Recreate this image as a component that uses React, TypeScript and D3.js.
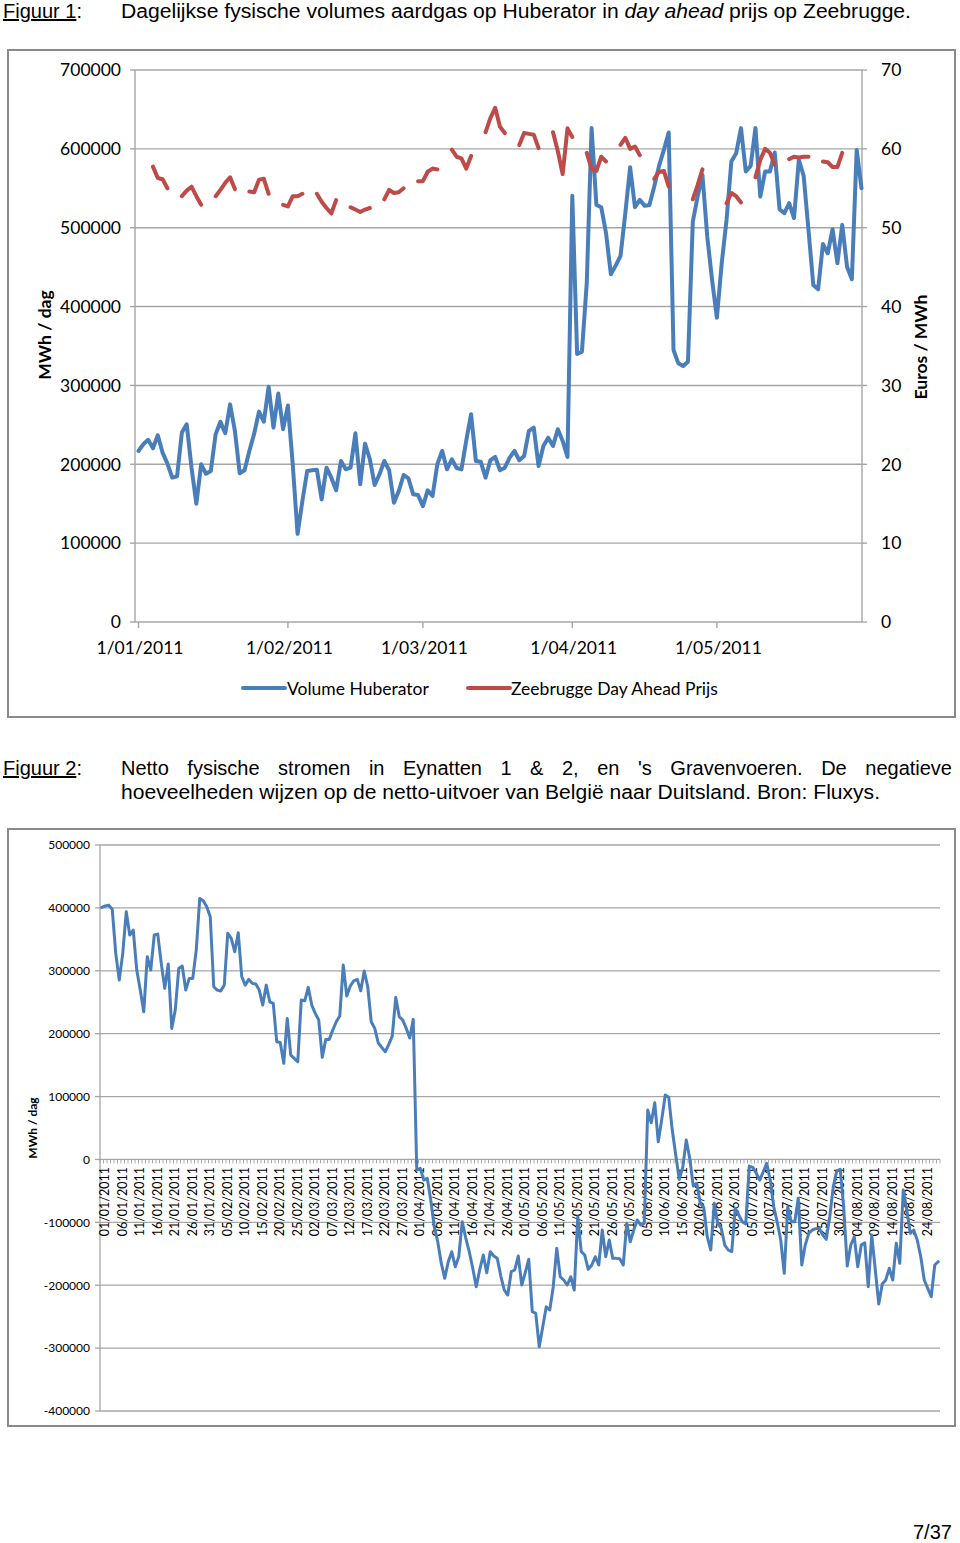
import React, { useLayoutEffect, useRef, useState } from "react";
import * as d3 from "d3";

// ---------- DATA ----------
// Figure 1: daily volume Huberator (MWh/day) from 1/01/2011, and Zeebrugge day-ahead price (EUR/MWh)
const volumeStart = [2011, 0, 1];
const volume = [
  216900, 225400, 231000, 220300, 236800, 214700, 200800, 183000, 184700, 240200,
  250800, 195700, 150000, 200000, 188000, 191500, 238000, 254000, 239400, 276000,
  242300, 188600, 192400, 216900, 238900, 266800, 254100, 298200, 246500, 289700,
  244500, 274500, 200000, 111800, 153400, 191500, 192500, 193200, 155500, 195700,
  183000, 167000, 204200, 193600, 195700, 239400, 174600, 226200, 206400, 173700,
  187300, 204200, 192400, 151200, 166100, 186400, 182200, 161900, 161000, 147000,
  167000, 159700, 200000, 216900, 193600, 206400, 195300, 193600, 230000, 263500,
  204200, 203300, 183000, 205100, 209300, 192400, 195700, 208400, 216900, 205100,
  210500, 242300, 246500, 197800, 223300, 233800, 223300, 244500, 229600, 209300,
  540400, 339800, 342800, 429600, 626300, 528900, 526000, 493000, 441000, 451900,
  464200, 518400, 576800, 526000, 535300, 527700, 528900, 552200, 578400, 598700,
  620700, 344900, 328000, 324600, 330100, 507700, 539500, 567000, 488700, 433800,
  385900, 455000, 509900, 583900, 594500, 626300, 571200, 578400, 626300, 539500,
  571200, 571200, 595300, 523500, 518400, 531100, 512100, 586000, 565700, 497200,
  427400, 421900, 479400, 467600, 498100, 455000, 503600, 450600, 434600, 598700,
  550100,
];
const price: (number | null)[] = [
  null, null, null, 57.75, 56.3, 56.15, 55.0, null, null, 54.0,
  54.7, 55.2, 54.0, 52.9, null, null, 54.0, 54.8, 55.7, 56.4,
  54.9, null, null, 54.6, 54.5, 56.1, 56.2, 54.3, null, null,
  52.9, 52.7, 54.0, 54.0, 54.3, null, null, 54.3, 53.3, 52.5,
  51.8, 53.5, null, null, 52.6, 52.3, 52.0, 52.3, 52.5, null,
  null, 53.6, 54.8, 54.4, 54.5, 55.0, null, null, 55.9, 55.9,
  57.1, 57.5, 57.4, null, null, 59.9, 59.0, 58.8, 57.5, 59.1,
  null, null, 62.1, 63.9, 65.2, 62.8, 62.0, null, null, 60.5,
  62.0, 61.9, 61.8, 60.1, null, null, 62.1, 59.7, 56.8, 62.6,
  61.5, null, null, 59.5, 57.5, 57.2, 59.0, 58.4, null, null,
  60.5, 61.4, 60.0, 60.3, 59.2, null, null, 56.2, 57.1, 57.2,
  55.2, null, null, null, null, 53.6, 55.4, 57.4, null, null,
  null, null, 53.1, 54.4, 54.0, 53.2, null, null, 56.4, 58.6,
  60.0, 59.5, 58.0, null, null, 58.7, 59.0, 58.9, 59.0, 59.0,
  null, null, 58.4, 58.3, 57.7, 57.7, 59.5, null, null, null,
  null,
];
const volumeTicks = [0, 100000, 200000, 300000, 400000, 500000, 600000, 700000];
const priceTicks = [0, 10, 20, 30, 40, 50, 60, 70];

// Figure 2: net physical flows Eynatten 1&2 + 's Gravenvoeren (MWh/day) from 01/01/2011
const flowStart = [2011, 0, 1];
const flow = [
  400800, 403000, 404400, 397600, 327700, 285200, 327700, 393800, 356800, 364700,
  301100, 269300, 234800, 322300, 301100, 356800, 358300, 311800, 272000, 310700,
  208400, 237500, 303800, 307500, 269300, 287900, 287900, 332900, 415100, 411300,
  401800, 385900, 274600, 269300, 267700, 277200, 359500, 351500, 330200, 360400,
  290500, 277200, 286300, 280000, 278900, 269300, 245500, 277200, 250700, 248200,
  187100, 186000, 152800, 224300, 166000, 160700, 155300, 253400, 252300, 273600,
  245500, 232300, 221600, 162300, 190900, 190900, 205700, 218900, 228000, 309100,
  259800, 275700, 284100, 286300, 268200, 299500, 274600, 218900, 208400, 185500,
  178000, 171200, 183000, 196200, 257700, 226900, 221600, 208400, 193000, 222700,
  -16900, -14200, -32800, -30000, -64500, -107000, -130800, -165000, -189000, -162600,
  -146700, -170600, -154700, -99000, -125000, -146700, -173100, -202400, -175000, -152000,
  -180100, -146700, -153600, -157300, -185000, -207600, -215600, -178500, -175800, -153600,
  -199700, -180000, -158800, -242100, -244700, -297800, -266000, -234200, -239400, -202400,
  -141300, -186500, -191700, -199700, -186500, -207600, -91100, -146700, -152000, -174700,
  -167900, -154700, -167900, -112200, -154700, -128100, -157300, -157300, -158000, -167900,
  -101600, -130800, -112000, -96300, -104300, -101600, 78500, 58300, 90100, 28100,
  63700, 102400, 98700, 46700, 7000, -31600, -12600, 30800, 1700, -42300,
  -38000, -69800, -76200, -122900, -144000, -69800, -101600, -109500, -136100, -144000,
  -146700, -77700, -88400, -99000, -102700, -10500, -12600, -22000, -32800, -19600,
  -6200, -32800, -75200, -100000, -128100, -181100, -75200, -99000, -99000, -61800,
  -167900, -136100, -117500, -112200, -110000, -109500, -120200, -127000, -91100, -43400,
  -18000, -15700, -77700, -169500, -136100, -122900, -170600, -136100, -132400, -202400,
  -120200, -175000, -229900, -198100, -191700, -173100, -191700, -133400, -165200, -48600,
  -80000, -117500, -112200, -128100, -154700, -191700, -205000, -218300, -167900, -162600,
];
const flowTicks = [500000, 400000, 300000, 200000, 100000, 0, -100000, -200000, -300000, -400000];

// ---------- STYLE ----------
const BLUE = "#4a7ebb";
const RED = "#be4b48";
const GRID = "#a6a6a6";
const FRAME = "#8a8a8a";
const LAB = "Lato, 'Open Sans', sans-serif";
const ARIAL = "'Liberation Sans', Arial, sans-serif";

const day1 = (i: number) => new Date(Date.UTC(volumeStart[0], volumeStart[1], volumeStart[2] + i));
const day2 = (i: number) => new Date(Date.UTC(flowStart[0], flowStart[1], flowStart[2] + i));

const justifyLine = "Netto fysische stromen in Eynatten 1 & 2, en 's Gravenvoeren. De negatieve";

export default function App() {
  const jref = useRef<SVGTextElement>(null);
  const [ws, setWs] = useState(0);
  useLayoutEffect(() => {
    const el = jref.current;
    if (!el) return;
    const w = el.getComputedTextLength();
    const spaces = justifyLine.split(" ").length - 1;
    setWs((952 - 121 - w) / spaces);
  }, []);

  // Figure 1 scales
  const x1 = d3.scaleUtc().domain([day1(0), day1(volume.length - 1)]).range([138.5, 861.5]);
  const yV = d3.scaleLinear().domain([0, 700000]).range([622, 70]);
  const yP = d3.scaleLinear().domain([0, 70]).range([622, 70]);
  const months = x1.ticks(d3.utcMonth.every(1) as any);
  const fmt1 = d3.utcFormat("%-d/%m/%Y");
  const lineV = d3.line<number>().x((_, i) => x1(day1(i))).y((d) => yV(d));
  const lineP = d3
    .line<number | null>()
    .defined((d) => d != null)
    .x((_, i) => x1(day1(i)))
    .y((d) => yP(d as number));

  // Figure 2 scales
  const idx = d3.range(flow.length);
  const x2 = d3.scaleBand<number>().domain(idx).range([100, 940]);
  const bw = x2.bandwidth();
  const y2 = d3.scaleLinear().domain([-400000, 500000]).range([1411, 845]);
  const fmt2 = d3.utcFormat("%d/%m/%Y");
  const lineF = d3.line<number>().x((_, i) => (x2(i) as number) + bw / 2).y((d) => y2(d));
  const labelIdx = idx.filter((i) => i % 5 === 0);

  return (
    <svg
      width={960}
      height={1543}
      style={{ position: "absolute", left: 0, top: 0, background: "#fff" }}
    >
      {/* Header 1 */}
      <text x={3} y={18} fontFamily={ARIAL} fontSize={20} fill="#000">
        <tspan textDecoration="underline">Figuur 1</tspan>:
      </text>
      <text x={121} y={18} fontFamily={ARIAL} fontSize={20} fill="#000" textLength={790} lengthAdjust="spacingAndGlyphs">
        Dagelijkse fysische volumes aardgas op Huberator in <tspan fontStyle="italic">day ahead</tspan> prijs op Zeebrugge.
      </text>

      {/* Figure 1 frame */}
      <rect x={8} y={50} width={947} height={667} fill="none" stroke={FRAME} strokeWidth={2} />

      {/* gridlines */}
      {volumeTicks.slice(1).map((t) => (
        <line key={"g" + t} x1={135} x2={862} y1={yV(t)} y2={yV(t)} stroke={GRID} strokeWidth={1.4} />
      ))}
      {/* axes */}
      <line x1={135} x2={135} y1={70} y2={622} stroke={GRID} strokeWidth={1.4} />
      <line x1={862} x2={862} y1={70} y2={622} stroke={GRID} strokeWidth={1.4} />
      <line x1={135} x2={862} y1={622} y2={622} stroke={GRID} strokeWidth={1.4} />
      {volumeTicks.map((t) => (
        <g key={"lt" + t}>
          <line x1={130} x2={135} y1={yV(t)} y2={yV(t)} stroke={GRID} strokeWidth={1.4} />
          <text x={121} y={yV(t)} dy="0.36em" textAnchor="end" fontFamily={LAB} fontSize={17.5} fill="#000">
            {t}
          </text>
        </g>
      ))}
      {priceTicks.map((t) => (
        <g key={"rt" + t}>
          <line x1={862} x2={867} y1={yP(t)} y2={yP(t)} stroke={GRID} strokeWidth={1.4} />
          <text x={881} y={yP(t)} dy="0.36em" textAnchor="start" fontFamily={LAB} fontSize={17.5} fill="#000">
            {t}
          </text>
        </g>
      ))}
      {months.map((m) => (
        <g key={"m" + m.getTime()}>
          <line x1={x1(m)} x2={x1(m)} y1={622} y2={628} stroke={GRID} strokeWidth={1.4} />
          <text x={x1(m) + 1.5} y={654} textAnchor="middle" fontFamily={LAB} fontSize={17.5} fill="#000">
            {fmt1(m)}
          </text>
        </g>
      ))}
      <text
        transform="translate(51,335) rotate(-90)"
        textAnchor="middle"
        fontFamily={LAB}
        fontWeight="bold"
        fontSize={17.5}
        fill="#000"
      >
        MWh / dag
      </text>
      <text
        transform="translate(927,347) rotate(-90)"
        textAnchor="middle"
        fontFamily={LAB}
        fontWeight="bold"
        fontSize={17.5}
        fill="#000"
      >
        Euros / MWh
      </text>

      {/* series */}
      <path d={lineV(volume) || ""} fill="none" stroke={BLUE} strokeWidth={4} strokeLinejoin="round" strokeLinecap="round" />
      <path d={lineP(price) || ""} fill="none" stroke={RED} strokeWidth={4} strokeLinejoin="round" strokeLinecap="round" />

      {/* legend */}
      <line x1={243} x2={285} y1={688} y2={688} stroke={BLUE} strokeWidth={4} strokeLinecap="round" />
      <text x={287} y={695} fontFamily={LAB} fontSize={17.5} fill="#000">
        Volume Huberator
      </text>
      <line x1={468} x2={510} y1={688} y2={688} stroke={RED} strokeWidth={4} strokeLinecap="round" />
      <text x={511} y={695} fontFamily={LAB} fontSize={17.5} fill="#000">
        Zeebrugge Day Ahead Prijs
      </text>

      {/* Header 2 */}
      <text x={3} y={775} fontFamily={ARIAL} fontSize={20} fill="#000">
        <tspan textDecoration="underline">Figuur 2</tspan>:
      </text>
      <text ref={jref} x={121} y={775} fontFamily={ARIAL} fontSize={20} fill="#000" wordSpacing={ws}>
        {justifyLine}
      </text>
      <text x={121} y={799} fontFamily={ARIAL} fontSize={20} fill="#000" textLength={759} lengthAdjust="spacingAndGlyphs">
        hoeveelheden wijzen op de netto-uitvoer van België naar Duitsland. Bron: Fluxys.
      </text>

      {/* Figure 2 frame */}
      <rect x={8} y={829} width={947} height={597} fill="none" stroke={FRAME} strokeWidth={2} />
      {flowTicks.map((t) => (
        <g key={"f" + t}>
          <line x1={100} x2={940} y1={y2(t)} y2={y2(t)} stroke={GRID} strokeWidth={1.3} />
          <line x1={95} x2={100} y1={y2(t)} y2={y2(t)} stroke={GRID} strokeWidth={1.3} />
          <text x={90} y={y2(t)} dy="0.36em" textAnchor="end" fontFamily={LAB} fontSize={12} fill="#000">
            {t}
          </text>
        </g>
      ))}
      <line x1={100} x2={100} y1={845} y2={1411} stroke={GRID} strokeWidth={1.3} />
      {d3.range(flow.length + 1).map((i) => (
        <line
          key={"ct" + i}
          x1={100 + i * bw}
          x2={100 + i * bw}
          y1={y2(0)}
          y2={y2(0) + 4}
          stroke={GRID}
          strokeWidth={1}
        />
      ))}
      {labelIdx.map((i) => (
        <text
          key={"xl" + i}
          transform={`translate(${(x2(i) as number) + bw / 2 + 7.5},1167) rotate(-90)`}
          textAnchor="end"
          fontFamily={LAB}
          fontSize={12.5}
          fill="#000"
        >
          {fmt2(day2(i))}
        </text>
      ))}
      <text
        transform="translate(37,1128) rotate(-90)"
        textAnchor="middle"
        fontFamily={LAB}
        fontWeight="bold"
        fontSize={12}
        fill="#000"
      >
        MWh / dag
      </text>
      <path d={lineF(flow) || ""} fill="none" stroke={BLUE} strokeWidth={3} strokeLinejoin="round" strokeLinecap="round" />

      {/* page number */}
      <text x={913} y={1539} fontFamily={ARIAL} fontSize={20} fill="#000">
        7/37
      </text>
    </svg>
  );
}
